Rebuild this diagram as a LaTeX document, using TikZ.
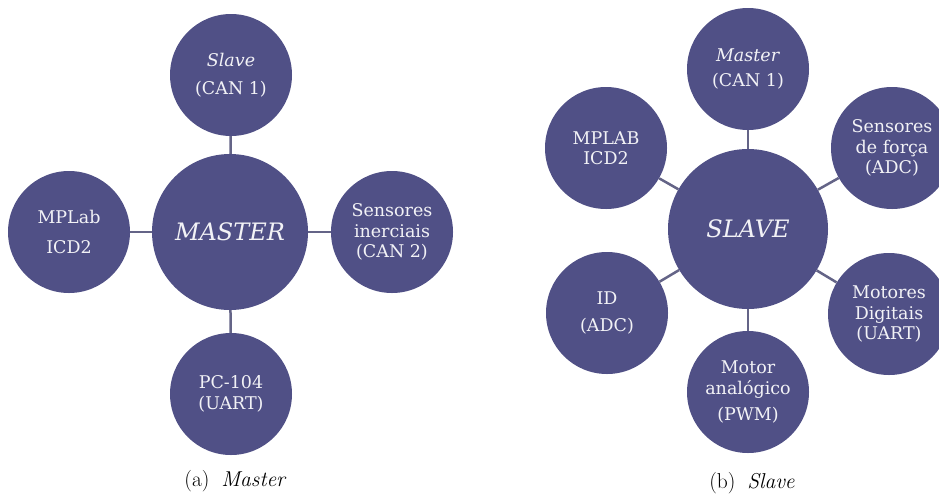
\documentclass[tikz,border=0pt]{standalone}
\usepackage{fontspec}
\newfontfamily\lab{DejaVu Serif}
\definecolor{circ}{RGB}{80,80,134}
\definecolor{conn}{RGB}{100,100,135}
\definecolor{txt}{RGB}{242,242,246}
\begin{document}
\begin{tikzpicture}[x=1pt,y=-1pt,
  bub/.style={circle,fill=circ,draw=none,inner sep=0pt,minimum size=#1,text=txt,align=center,font=\lab\fontsize{17.5}{20.5}\selectfont},
  bub/.default=122pt,
  hub/.style={bub=#1,font=\lab\itshape\fontsize{24}{28}\selectfont},
  link/.style={draw=conn,line width=2.5pt},
  captxt/.style={font=\fontsize{21.5}{25}\selectfont}]
\useasboundingbox (0,0) rectangle (939,496);
% (a) Master
\node[hub=156pt] (M) at (230,232) {MASTER};
\node[bub] (ms) at (231,75) {\textit{Slave}\\[7pt](CAN 1)};
\node[bub] (mp) at (69,232) {MPLab\\[9pt]ICD2};
\node[bub] (mi) at (392,232) {Sensores\\inerciais\\(CAN 2)};
\node[bub] (mc) at (231,394) {PC-104\\(UART)};
\draw[link] (ms) -- (M);
\draw[link] (mp) -- (M);
\draw[link] (mi) -- (M);
\draw[link] (mc) -- (M);
\node[captxt] (ca) at (235.5,481) {(a)\hspace{0.55em}\textit{Master}};
% (b) Slave
\node[hub=160pt] (S) at (748,229) {SLAVE};
\node[bub] (sm) at (748,69) {\textit{Master}\\[4pt](CAN 1)};
\node[bub] (sp) at (606,148) {MPLAB\\ICD2};
\node[bub] (sf) at (892,148) {Sensores\\de força\\(ADC)};
\node[bub] (sd) at (607,313) {ID\\[7pt](ADC)};
\node[bub] (su) at (889,314) {Motores\\Digitais\\(UART)};
\node[bub] (sa) at (748,392) {Motor\\analógico\\[6pt](PWM)};
\draw[link] (sm) -- (S);
\draw[link] (sp) -- (S);
\draw[link] (sf) -- (S);
\draw[link] (sd) -- (S);
\draw[link] (su) -- (S);
\draw[link] (sa) -- (S);
\node[captxt] (cb) at (752,483) {(b)\hspace{0.55em}\textit{Slave}};
\end{tikzpicture}
\end{document}
